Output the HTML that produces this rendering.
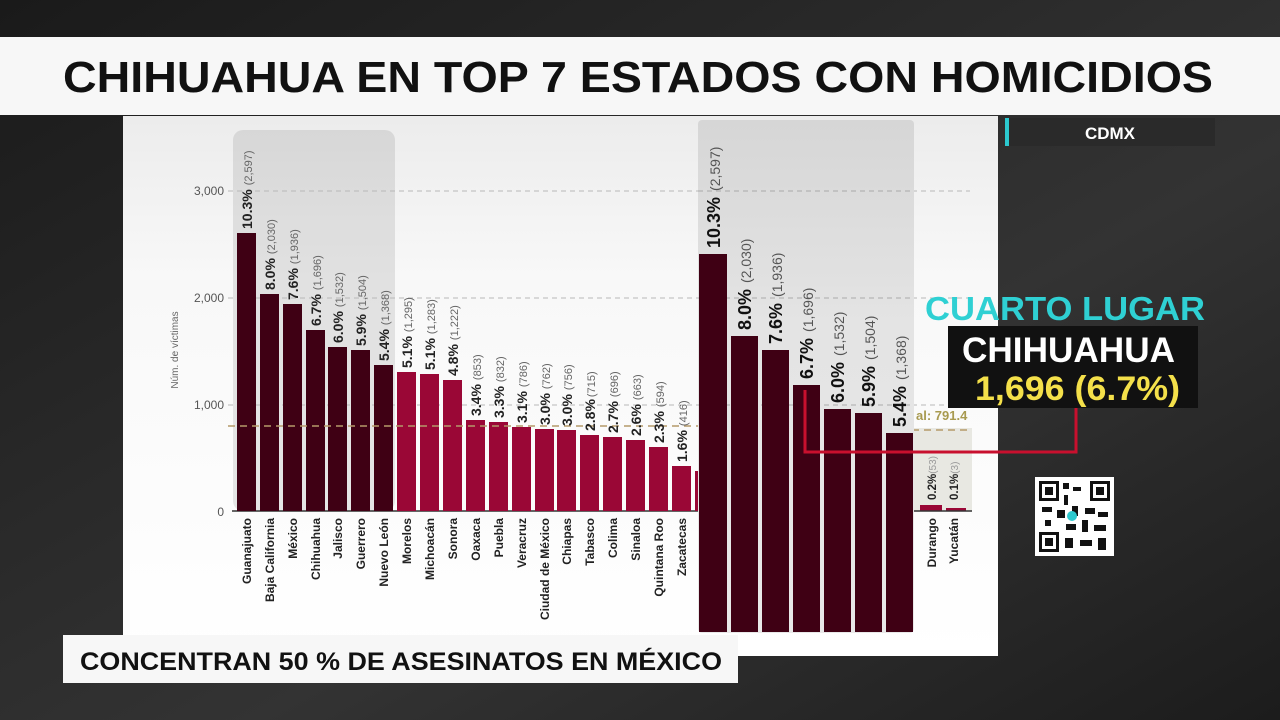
<!DOCTYPE html>
<html><head><meta charset="utf-8"><style>
html,body{margin:0;padding:0;width:1280px;height:720px;overflow:hidden;background:#222;}
svg{display:block}
text{font-family:"Liberation Sans",sans-serif}
</style></head><body>
<svg width="1280" height="720" viewBox="0 0 1280 720" xmlns="http://www.w3.org/2000/svg">
<defs>
<linearGradient id="bg" x1="0" y1="0" x2="1" y2="1">
<stop offset="0" stop-color="#1a1a1a"/><stop offset="0.6" stop-color="#333"/><stop offset="1" stop-color="#1c1c1c"/>
</linearGradient>
<linearGradient id="panel" x1="0" y1="0" x2="0" y2="1">
<stop offset="0" stop-color="#ececec"/><stop offset="0.3" stop-color="#f8f8f8"/><stop offset="1" stop-color="#ffffff"/>
</linearGradient>
<linearGradient id="ov" x1="0" y1="0" x2="0" y2="1">
<stop offset="0" stop-color="#d6d6d6"/><stop offset="0.4" stop-color="#e4e4e4"/><stop offset="1" stop-color="#e8e8e8"/>
</linearGradient>
</defs>
<rect width="1280" height="720" fill="url(#bg)"/>
<rect x="0" y="37" width="1280" height="78" fill="#f7f7f7"/>
<text x="63" y="92" font-size="44" font-weight="bold" fill="#111" textLength="1150" lengthAdjust="spacingAndGlyphs">CHIHUAHUA EN TOP 7 ESTADOS CON HOMICIDIOS</text>
<rect x="123" y="116" width="875" height="540" fill="url(#panel)"/>
<rect x="233" y="130" width="162" height="381" rx="10" fill="#000" opacity="0.09"/>
<g stroke="#b8b8b8" stroke-width="1" stroke-dasharray="5,4">
<line x1="228" y1="191" x2="970" y2="191"/>
<line x1="228" y1="298" x2="970" y2="298"/>
<line x1="228" y1="405" x2="970" y2="405"/>
</g>
<g font-size="12" fill="#555" text-anchor="end">
<text x="224" y="195">3,000</text><text x="224" y="302">2,000</text><text x="224" y="409">1,000</text><text x="224" y="516">0</text>
</g>
<text transform="translate(178,350) rotate(-90)" font-size="10" fill="#666" text-anchor="middle">Núm. de víctimas</text>
<line x1="232" y1="511" x2="700" y2="511" stroke="#333" stroke-width="1.5"/>
<g>
<rect x="237" y="233" width="19" height="278" fill="#3f0014"/>
<rect x="260" y="294" width="19" height="217" fill="#3f0014"/>
<rect x="283" y="304" width="19" height="207" fill="#3f0014"/>
<rect x="306" y="330" width="19" height="181" fill="#3f0014"/>
<rect x="328" y="347" width="19" height="164" fill="#3f0014"/>
<rect x="351" y="350" width="19" height="161" fill="#3f0014"/>
<rect x="374" y="365" width="19" height="146" fill="#3f0014"/>
<rect x="397" y="372" width="19" height="139" fill="#9a0736"/>
<rect x="420" y="374" width="19" height="137" fill="#9a0736"/>
<rect x="443" y="380" width="19" height="131" fill="#9a0736"/>
<rect x="466" y="420" width="19" height="91" fill="#9a0736"/>
<rect x="489" y="422" width="19" height="89" fill="#9a0736"/>
<rect x="512" y="427" width="19" height="84" fill="#9a0736"/>
<rect x="535" y="429" width="19" height="82" fill="#9a0736"/>
<rect x="557" y="430" width="19" height="81" fill="#9a0736"/>
<rect x="580" y="435" width="19" height="76" fill="#9a0736"/>
<rect x="603" y="437" width="19" height="74" fill="#9a0736"/>
<rect x="626" y="440" width="19" height="71" fill="#9a0736"/>
<rect x="649" y="447" width="19" height="64" fill="#9a0736"/>
<rect x="672" y="466" width="19" height="45" fill="#9a0736"/>
<rect x="695" y="471" width="19" height="40" fill="#9a0736"/>
</g>
<line x1="228" y1="426" x2="700" y2="426" stroke="#b59a6a" stroke-width="1.5" stroke-dasharray="7,5"/>
<g font-size="14">
<text transform="translate(252,229) rotate(-90)"><tspan font-weight="bold" fill="#222">10.3%</tspan><tspan font-size="11" fill="#666" dx="4">(2,597)</tspan></text>
<text transform="translate(275,290) rotate(-90)"><tspan font-weight="bold" fill="#222">8.0%</tspan><tspan font-size="11" fill="#666" dx="4">(2,030)</tspan></text>
<text transform="translate(298,300) rotate(-90)"><tspan font-weight="bold" fill="#222">7.6%</tspan><tspan font-size="11" fill="#666" dx="4">(1,936)</tspan></text>
<text transform="translate(321,326) rotate(-90)"><tspan font-weight="bold" fill="#222">6.7%</tspan><tspan font-size="11" fill="#666" dx="4">(1,696)</tspan></text>
<text transform="translate(343,343) rotate(-90)"><tspan font-weight="bold" fill="#222">6.0%</tspan><tspan font-size="11" fill="#666" dx="4">(1,532)</tspan></text>
<text transform="translate(366,346) rotate(-90)"><tspan font-weight="bold" fill="#222">5.9%</tspan><tspan font-size="11" fill="#666" dx="4">(1,504)</tspan></text>
<text transform="translate(389,361) rotate(-90)"><tspan font-weight="bold" fill="#222">5.4%</tspan><tspan font-size="11" fill="#666" dx="4">(1,368)</tspan></text>
<text transform="translate(412,368) rotate(-90)"><tspan font-weight="bold" fill="#222">5.1%</tspan><tspan font-size="11" fill="#666" dx="4">(1,295)</tspan></text>
<text transform="translate(435,370) rotate(-90)"><tspan font-weight="bold" fill="#222">5.1%</tspan><tspan font-size="11" fill="#666" dx="4">(1,283)</tspan></text>
<text transform="translate(458,376) rotate(-90)"><tspan font-weight="bold" fill="#222">4.8%</tspan><tspan font-size="11" fill="#666" dx="4">(1,222)</tspan></text>
<text transform="translate(481,416) rotate(-90)"><tspan font-weight="bold" fill="#222">3.4%</tspan><tspan font-size="11" fill="#666" dx="4">(853)</tspan></text>
<text transform="translate(504,418) rotate(-90)"><tspan font-weight="bold" fill="#222">3.3%</tspan><tspan font-size="11" fill="#666" dx="4">(832)</tspan></text>
<text transform="translate(527,423) rotate(-90)"><tspan font-weight="bold" fill="#222">3.1%</tspan><tspan font-size="11" fill="#666" dx="4">(786)</tspan></text>
<text transform="translate(550,425) rotate(-90)"><tspan font-weight="bold" fill="#222">3.0%</tspan><tspan font-size="11" fill="#666" dx="4">(762)</tspan></text>
<text transform="translate(572,426) rotate(-90)"><tspan font-weight="bold" fill="#222">3.0%</tspan><tspan font-size="11" fill="#666" dx="4">(756)</tspan></text>
<text transform="translate(595,431) rotate(-90)"><tspan font-weight="bold" fill="#222">2.8%</tspan><tspan font-size="11" fill="#666" dx="2">(715)</tspan></text>
<text transform="translate(618,433) rotate(-90)"><tspan font-weight="bold" fill="#222">2.7%</tspan><tspan font-size="11" fill="#666" dx="4">(696)</tspan></text>
<text transform="translate(641,436) rotate(-90)"><tspan font-weight="bold" fill="#222">2.6%</tspan><tspan font-size="11" fill="#666" dx="4">(663)</tspan></text>
<text transform="translate(664,443) rotate(-90)"><tspan font-weight="bold" fill="#222">2.3%</tspan><tspan font-size="11" fill="#666" dx="4">(594)</tspan></text>
<text transform="translate(687,462) rotate(-90)"><tspan font-weight="bold" fill="#222">1.6%</tspan><tspan font-size="11" fill="#666" dx="4">(416)</tspan></text>
</g>
<g font-size="12" font-weight="bold" fill="#222" text-anchor="end">
<text transform="translate(251,518) rotate(-90)">Guanajuato</text>
<text transform="translate(274,518) rotate(-90)">Baja California</text>
<text transform="translate(297,518) rotate(-90)">México</text>
<text transform="translate(320,518) rotate(-90)">Chihuahua</text>
<text transform="translate(342,518) rotate(-90)">Jalisco</text>
<text transform="translate(365,518) rotate(-90)">Guerrero</text>
<text transform="translate(388,518) rotate(-90)">Nuevo León</text>
<text transform="translate(411,518) rotate(-90)">Morelos</text>
<text transform="translate(434,518) rotate(-90)">Michoacán</text>
<text transform="translate(457,518) rotate(-90)">Sonora</text>
<text transform="translate(480,518) rotate(-90)">Oaxaca</text>
<text transform="translate(503,518) rotate(-90)">Puebla</text>
<text transform="translate(526,518) rotate(-90)">Veracruz</text>
<text transform="translate(549,518) rotate(-90)">Ciudad de México</text>
<text transform="translate(571,518) rotate(-90)">Chiapas</text>
<text transform="translate(594,518) rotate(-90)">Tabasco</text>
<text transform="translate(617,518) rotate(-90)">Colima</text>
<text transform="translate(640,518) rotate(-90)">Sinaloa</text>
<text transform="translate(663,518) rotate(-90)">Quintana Roo</text>
<text transform="translate(686,518) rotate(-90)">Zacatecas</text>
</g>
<rect x="912" y="428" width="60" height="83" fill="#e8e8e2"/>
<line x1="912" y1="430" x2="972" y2="430" stroke="#b59a6a" stroke-width="1.5" stroke-dasharray="7,5"/>
<text x="916" y="420" font-size="13" font-weight="bold" fill="#a89a50">al: 791.4</text>
<rect x="920" y="505" width="22" height="6" fill="#9a0736"/>
<rect x="946" y="508" width="20" height="3" fill="#9a0736"/>
<line x1="912" y1="511" x2="972" y2="511" stroke="#333" stroke-width="1.5"/>
<g font-size="11.5">
<text transform="translate(936,500) rotate(-90)"><tspan font-weight="bold" fill="#222">0.2%</tspan><tspan font-size="10" fill="#999">(53)</tspan></text>
<text transform="translate(958,500) rotate(-90)"><tspan font-weight="bold" fill="#222">0.1%</tspan><tspan font-size="10" fill="#999">(3)</tspan></text>
</g>
<g font-size="12" font-weight="bold" fill="#222" text-anchor="end">
<text transform="translate(936,518) rotate(-90)">Durango</text>
<text transform="translate(958,518) rotate(-90)">Yucatán</text>
</g>
<rect x="698" y="120" width="216" height="513" rx="4" fill="url(#ov)"/>
<g stroke="#aaa" stroke-dasharray="5,4"><line x1="698" y1="191" x2="914" y2="191"/><line x1="698" y1="298" x2="914" y2="298"/><line x1="698" y1="405" x2="914" y2="405"/></g>
<g fill="#3f0014">
<rect x="699" y="254" width="28" height="378"/>
<rect x="731" y="336" width="27" height="296"/>
<rect x="762" y="350" width="27" height="282"/>
<rect x="793" y="385" width="27" height="247"/>
<rect x="824" y="409" width="27" height="223"/>
<rect x="855" y="413" width="27" height="219"/>
<rect x="886" y="433" width="27" height="199"/>
</g>
<g font-size="18">
<text transform="translate(720,248) rotate(-90)"><tspan font-weight="bold" fill="#111">10.3%</tspan><tspan font-size="14" fill="#555" dx="6">(2,597)</tspan></text>
<text transform="translate(751,330) rotate(-90)"><tspan font-weight="bold" fill="#111">8.0%</tspan><tspan font-size="14" fill="#555" dx="6">(2,030)</tspan></text>
<text transform="translate(782,344) rotate(-90)"><tspan font-weight="bold" fill="#111">7.6%</tspan><tspan font-size="14" fill="#555" dx="6">(1,936)</tspan></text>
<text transform="translate(813,379) rotate(-90)"><tspan font-weight="bold" fill="#111">6.7%</tspan><tspan font-size="14" fill="#555" dx="6">(1,696)</tspan></text>
<text transform="translate(844,403) rotate(-90)"><tspan font-weight="bold" fill="#111">6.0%</tspan><tspan font-size="14" fill="#555" dx="6">(1,532)</tspan></text>
<text transform="translate(875,407) rotate(-90)"><tspan font-weight="bold" fill="#111">5.9%</tspan><tspan font-size="14" fill="#555" dx="6">(1,504)</tspan></text>
<text transform="translate(906,427) rotate(-90)"><tspan font-weight="bold" fill="#111">5.4%</tspan><tspan font-size="14" fill="#555" dx="6">(1,368)</tspan></text>
</g>
<polyline points="805,390 805,452 1076,452 1076,408" fill="none" stroke="#c8102e" stroke-width="3"/>
<rect x="1005" y="118" width="210" height="28" fill="#2a2a2a"/>
<rect x="1005" y="118" width="4" height="28" fill="#2cc9cf"/>
<text x="1110" y="139" text-anchor="middle" font-size="17" font-weight="bold" fill="#fff">CDMX</text>
<text x="925" y="320" font-size="33" font-weight="bold" fill="#2fd0d3" textLength="280" lengthAdjust="spacingAndGlyphs">CUARTO LUGAR</text>
<rect x="948" y="326" width="250" height="82" fill="#111"/>
<text x="962" y="362" font-size="35" font-weight="bold" fill="#fff" textLength="213" lengthAdjust="spacingAndGlyphs">CHIHUAHUA</text>
<text x="975" y="400" font-size="34" font-weight="bold" fill="#f4e04a" textLength="205" lengthAdjust="spacingAndGlyphs">1,696 (6.7%)</text>
<rect x="1035" y="477" width="79" height="79" fill="#fff"/>
<g fill="#111">
<rect x="1039" y="481" width="20" height="20"/><rect x="1090" y="481" width="20" height="20"/><rect x="1039" y="532" width="20" height="20"/>
<rect x="1063" y="483" width="6" height="6"/><rect x="1073" y="487" width="8" height="4"/><rect x="1064" y="495" width="4" height="10"/>
<rect x="1042" y="507" width="10" height="5"/><rect x="1057" y="510" width="8" height="8"/><rect x="1072" y="506" width="6" height="10"/>
<rect x="1085" y="508" width="10" height="6"/><rect x="1098" y="512" width="10" height="5"/><rect x="1045" y="520" width="6" height="6"/>
<rect x="1066" y="524" width="10" height="6"/><rect x="1082" y="520" width="6" height="12"/><rect x="1094" y="525" width="12" height="6"/>
<rect x="1065" y="538" width="8" height="10"/><rect x="1080" y="540" width="12" height="6"/><rect x="1098" y="538" width="8" height="12"/>
</g>
<g fill="#fff"><rect x="1042" y="484" width="14" height="14"/><rect x="1093" y="484" width="14" height="14"/><rect x="1042" y="535" width="14" height="14"/></g>
<g fill="#111"><rect x="1045" y="487" width="8" height="8"/><rect x="1096" y="487" width="8" height="8"/><rect x="1045" y="538" width="8" height="8"/></g>
<circle cx="1072" cy="516" r="5" fill="#2cc9cf"/>
<rect x="63" y="635" width="675" height="48" fill="#f7f7f7"/>
<text x="80" y="670" font-size="25" font-weight="bold" fill="#111" textLength="642" lengthAdjust="spacingAndGlyphs">CONCENTRAN 50 % DE ASESINATOS EN MÉXICO</text>
</svg>
</body></html>
